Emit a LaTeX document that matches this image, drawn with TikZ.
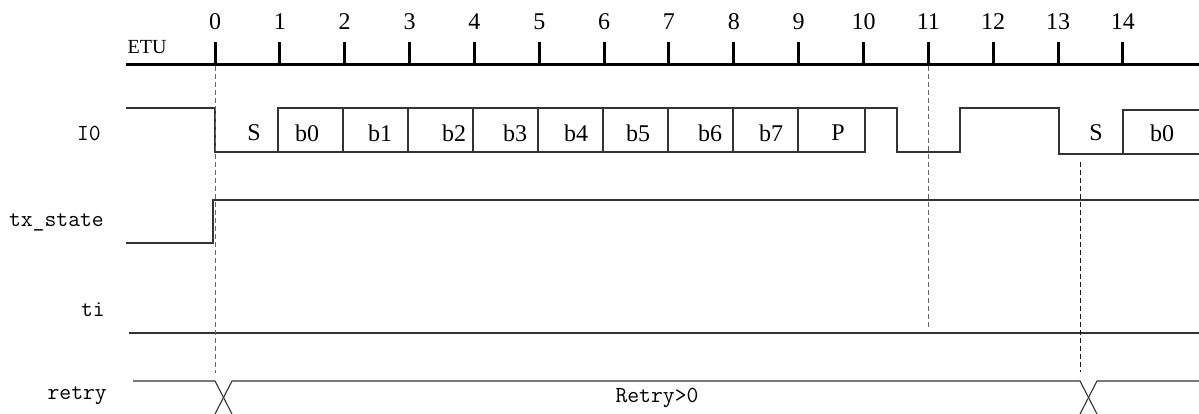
\documentclass[tikz,border=0pt]{standalone}
\usepackage{fontspec}
\setmainfont{Liberation Serif}
\begin{document}
\begin{tikzpicture}[x=1pt,y=-1pt,
  sig/.style={line width=1.1pt, draw=black!80},
  axisline/.style={line width=3pt, draw=black},
  guide/.style={line width=1pt, draw=black!60, dash pattern=on 5pt off 3pt},
  guidedark/.style={line width=1pt, draw=black!90, dash pattern=on 5pt off 3pt},
  numlab/.style={font=\fontsize{24}{24}\selectfont, inner sep=0pt},
  bitlab/.style={font=\fontsize{24}{24}\selectfont, inner sep=0pt},
  namelab/.style={font=\ttfamily\fontsize{23}{23}\selectfont, inner sep=0pt, anchor=east}]
\useasboundingbox (0,0) rectangle (1199,414);
% ETU axis
\node[font=\fontsize{20}{20}\selectfont, inner sep=0pt] (etu) at (147,47) {ETU};
\coordinate (axL) at (126,65);
\coordinate (axR) at (1199,65);
\draw[axisline] (axL) -- (axR);
\foreach \k in {0,...,14} {
  \coordinate (t\k) at ({215+64.85*\k},65);
  \draw[axisline] (t\k) -- ++(0,-23);
  \node[numlab] (n\k) at ({215+64.85*\k},22) {\k};
}
% IO signal
\node[namelab] (io) at (101,133) {I0};
\draw[sig] (126,108) -- (215,108) -- (215,152) -- (865,152) -- (865,108) -- (897,108) -- (897,152) -- (960,152) -- (960,108) -- (1059,108) -- (1059,154) -- (1199,154);
\draw[sig] (278,152) -- (278,108) -- (865,108);
\foreach \x in {343,408,473,538,603,668,733,798} {
  \draw[sig] (\x,108) -- (\x,152);
}
\draw[sig] (1199,110) -- (1123,110) -- (1123,154);
\node[bitlab] (bS) at (254,133) {S};
\node[bitlab] (b0) at (307,133) {b0};
\node[bitlab] (b1) at (380,133) {b1};
\node[bitlab] (b2) at (454,133) {b2};
\node[bitlab] (b3) at (515,133) {b3};
\node[bitlab] (b4) at (576,133) {b4};
\node[bitlab] (b5) at (638,133) {b5};
\node[bitlab] (b6) at (710,133) {b6};
\node[bitlab] (b7) at (771,133) {b7};
\node[bitlab] (bP) at (838,133) {P};
\node[bitlab] (bS2) at (1096,133) {S};
\node[bitlab] (b02) at (1162,133) {b0};
% tx_state
\node[namelab] (txs) at (104,222) {tx\_state};
\draw[sig] (126,243) -- (213,243) -- (213,200) -- (1199,200);
% ti
\node[namelab] (ti) at (105,310) {ti};
\draw[sig] (129,333) -- (1199,333);
% retry
\node[namelab] (retry) at (107,396) {retry};
\draw[sig] (133,381) -- (215,381) -- (232,414);
\draw[sig] (215,414) -- (232,381) -- (1080,381) -- (1097,414);
\draw[sig] (1080,414) -- (1097,381) -- (1199,381);
\node[font=\ttfamily\fontsize{23}{23}\selectfont, inner sep=0pt] (rv) at (657,398) {Retry>0};
% guide lines
\draw[guide] (215,66) -- (215,373);
\draw[guide] (928,66) -- (928,327);
\draw[guidedark] (1080,162) -- (1080,372);
\end{tikzpicture}
\end{document}
